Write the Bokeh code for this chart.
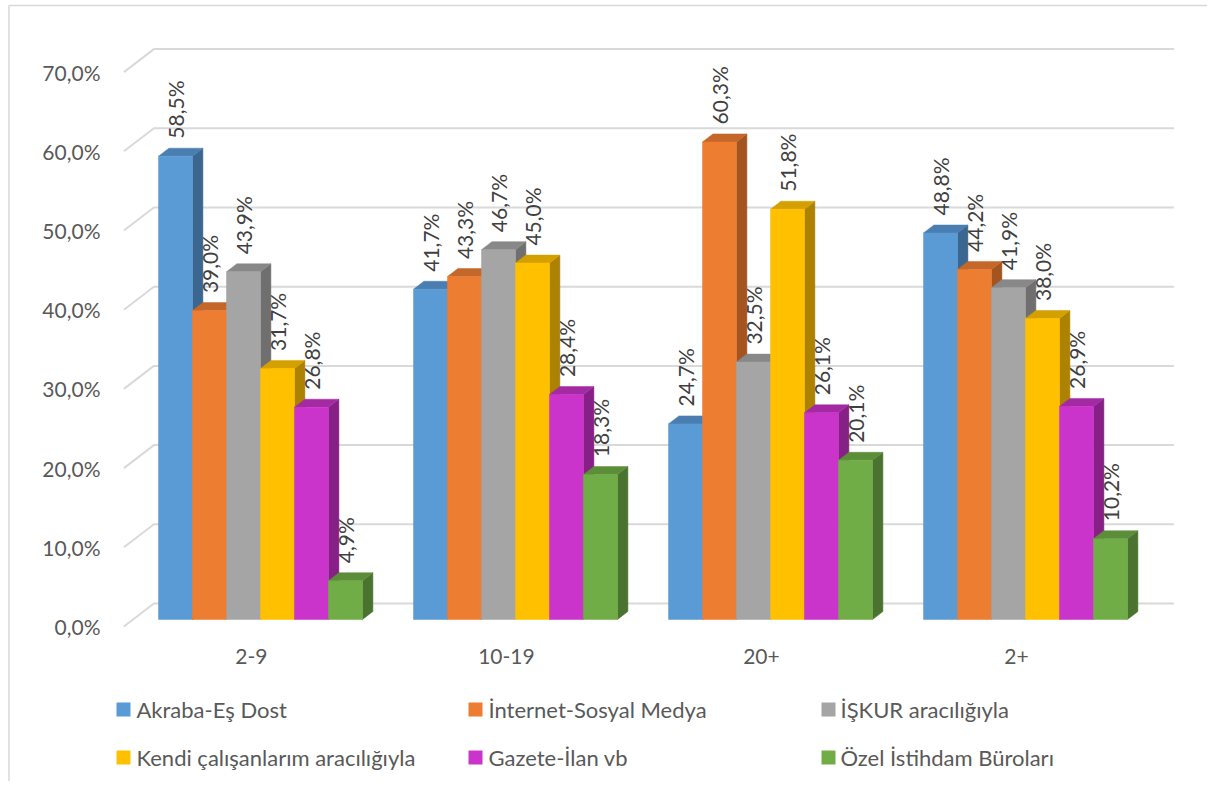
import math
from bokeh.plotting import figure
from bokeh.models import Range1d, ColumnDataSource
from bokeh.core.properties import value
from bokeh.embed import file_html
from bokeh.resources import INLINE

# ---------------- data ----------------
categories = ["2-9", "10-19", "20+", "2+"]
series_names = ["Akraba-Eş Dost", "İnternet-Sosyal Medya", "İŞKUR aracılığıyla",
                "Kendi çalışanlarım aracılığıyla", "Gazete-İlan vb", "Özel İstihdam Büroları"]
akraba = [58.5, 41.7, 24.7, 48.8]
internet = [39.0, 43.3, 60.3, 44.2]
iskur = [43.9, 46.7, 32.5, 41.9]
kendi = [31.7, 45.0, 51.8, 38.0]
gazete = [26.8, 28.4, 26.1, 26.9]
ozel = [4.9, 18.3, 20.1, 10.2]
series_values = [akraba, internet, iskur, kendi, gazete, ozel]
y_ticks = [0, 10, 20, 30, 40, 50, 60, 70]
y_tick_labels = ["0,0%", "10,0%", "20,0%", "30,0%", "40,0%", "50,0%", "60,0%", "70,0%"]

front_colors = ["#5B9BD5", "#ED7D31", "#A5A5A5", "#FFC000", "#CA34CA", "#70AD47"]
top_colors = ["#4A7EB0", "#C4672A", "#888888", "#D4A000", "#A42AA4", "#5C8E3A"]
side_colors = ["#3B6690", "#A4541F", "#6F6F6F", "#AC8200", "#861F86", "#4A7330"]

# ---------------- geometry (pixels) ----------------
W, H = 1207, 781
PX_CAT = 255.0          # pixels per category
PX_PCT = 7.92           # pixels per 1 %
OX, OY = 260.0, 619.0   # canvas position of (group 0 centre, 0 %) on bar front plane
BAR_W = 34.0 / PX_CAT
BAR_DX, BAR_DY = 10.4, -8.0      # bar depth (screen px)
FRONT_DX, FRONT_DY = -9.1, 7.0   # floor front relative to bar front plane
BACK_DX, BACK_DY = 20.9, -16.0   # back wall relative to bar front plane


def cx(px):
    return (px - OX) / PX_CAT


def cy(py):
    return (OY - py) / PX_PCT


def du(dpx):
    return dpx / PX_CAT


def dv(dpy):
    return -dpy / PX_PCT


p = figure(width=W, height=H, output_backend="svg", toolbar_location=None,
           x_range=Range1d(cx(0), cx(W)), y_range=Range1d(cy(H), cy(0)),
           min_border=0, min_border_left=0, min_border_right=0,
           min_border_top=0, min_border_bottom=0)
p.axis.visible = False
p.grid.visible = False
p.outline_line_color = None
p.background_fill_color = "white"
p.border_fill_color = "white"

FONT = value("Lato")
GRID = "#D9D9D9"

# outer chart border (top and left visible in the reference)
p.line([cx(8.5), cx(8.5), cx(W)], [cy(H), cy(5), cy(5)], line_color=GRID, line_width=1.5)

# ---------------- gridlines (left wall + back wall) ----------------
left = -0.5
right = len(categories) - 0.5
gx, gy = [], []
for t in y_ticks:
    gx.append([left + du(FRONT_DX), left + du(BACK_DX), right + du(BACK_DX)])
    gy.append([t + dv(FRONT_DY), t + dv(BACK_DY), t + dv(BACK_DY)])
p.multi_line(gx, gy, line_color=GRID, line_width=2)

# y tick labels
p.text(x=[cx(100)] * len(y_ticks), y=[t + dv(FRONT_DY) for t in y_ticks], text=y_tick_labels,
       text_font=FONT, text_font_size="21px", text_color="#595959",
       text_align="right", text_baseline="middle")

# ---------------- 3D bars ----------------
xs, ys, fills = [], [], []
lx, ly, ltext = [], [], []
n = len(series_values)
for g in range(len(categories)):
    for s in range(n):
        v = series_values[s][g]
        x0 = g + (s - n / 2) * BAR_W
        x1 = x0 + BAR_W
        ddx, ddy = du(BAR_DX), dv(BAR_DY)
        # side face
        xs.append([x1, x1, x1 + ddx, x1 + ddx]); ys.append([0, v, v + ddy, ddy]); fills.append(side_colors[s])
        # top face
        xs.append([x0, x1, x1 + ddx, x0 + ddx]); ys.append([v, v, v + ddy, v + ddy]); fills.append(top_colors[s])
        # front face
        xs.append([x0, x1, x1, x0]); ys.append([0, 0, v, v]); fills.append(front_colors[s])
        lx.append((x0 + x1) / 2)
        ly.append(v + 17.5 / PX_PCT)
        ltext.append(f"{v:.1f}".replace(".", ",") + "%")

src = ColumnDataSource(dict(xs=xs, ys=ys, fill=fills))
p.patches("xs", "ys", source=src, fill_color="fill", line_color="fill", line_width=0.5)

# data labels (rotated)
p.text(x=lx, y=ly, text=ltext, angle=math.pi / 2, text_font=FONT, text_font_size="21px",
       text_color="#404040", text_align="left", text_baseline="middle")

# category labels
p.text(x=[g + du(FRONT_DX) for g in range(len(categories))], y=[cy(656)] * len(categories),
       text=categories, text_font=FONT, text_font_size="21px", text_color="#595959",
       text_align="center", text_baseline="middle")

# ---------------- legend ----------------
col_sq = [123, 475, 828]
col_tx = [136, 488, 840]
row_y = [709, 757]
sqx, sqy, tx, ty = [], [], [], []
for i in range(len(series_names)):
    r, c = divmod(i, 3)
    sqx.append(cx(col_sq[c])); sqy.append(cy(row_y[r]))
    tx.append(cx(col_tx[c])); ty.append(cy(row_y[r]))
p.scatter(x=sqx, y=sqy, marker="square", size=14, fill_color=front_colors, line_color=None)
p.text(x=tx, y=ty, text=series_names, text_font=FONT, text_font_size="22px",
       text_color="#595959", text_align="left", text_baseline="middle")

open("out.html", "w").write(file_html(p, INLINE))
